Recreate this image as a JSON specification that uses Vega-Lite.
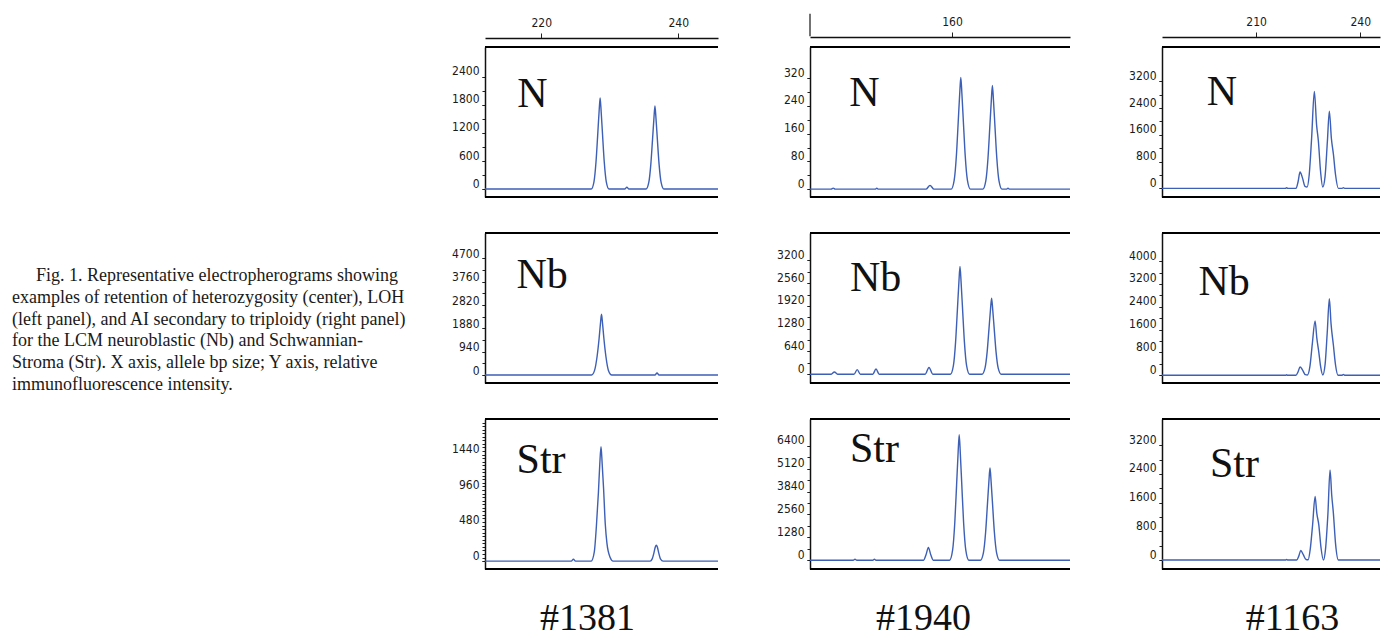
{
 "$schema": "https://vega.github.io/schema/vega-lite/v6.json",
 "background": "white",
 "padding": {"left": 12, "top": 12, "right": 0, "bottom": 0},
 "columns": 4,
 "align": "each",
 "bounds": "flush",
 "spacing": {"row": 36, "column": 92},
 "config": {
  "view": {"stroke": null},
  "axis": {"grid": false, "labelOverlap": false, "domainColor": "#111", "domainWidth": 1.5, "tickColor": "#222", "tickWidth": 1, "labelColor": "#1a1a1a", "labelFont": "Liberation Sans Narrow, DejaVu Sans Condensed, Arial Narrow, sans-serif", "labelFontSize": 12}
 },
 "datasets": {
  "traces": [
   {"panel":"1381N","bp":211.8,"rfu":0},{"panel":"1381N","bp":227.3,"rfu":0},{"panel":"1381N","bp":227.7,"rfu":156},{"panel":"1381N","bp":228.0,"rfu":585},{"panel":"1381N","bp":228.25,"rfu":1170},{"panel":"1381N","bp":228.45,"rfu":1658},{"panel":"1381N","bp":228.6,"rfu":1950},{"panel":"1381N","bp":228.75,"rfu":1658},{"panel":"1381N","bp":228.95,"rfu":1170},{"panel":"1381N","bp":229.2,"rfu":585},{"panel":"1381N","bp":229.5,"rfu":156},{"panel":"1381N","bp":229.9,"rfu":0},{"panel":"1381N","bp":232.2,"rfu":0},{"panel":"1381N","bp":232.5,"rfu":40},{"panel":"1381N","bp":232.8,"rfu":0},{"panel":"1381N","bp":235.3,"rfu":0},{"panel":"1381N","bp":235.7,"rfu":142},{"panel":"1381N","bp":236.0,"rfu":534},{"panel":"1381N","bp":236.25,"rfu":1068},{"panel":"1381N","bp":236.45,"rfu":1513},{"panel":"1381N","bp":236.6,"rfu":1780},{"panel":"1381N","bp":236.75,"rfu":1513},{"panel":"1381N","bp":236.95,"rfu":1068},{"panel":"1381N","bp":237.2,"rfu":534},{"panel":"1381N","bp":237.5,"rfu":142},{"panel":"1381N","bp":237.9,"rfu":0},{"panel":"1381N","bp":245.8,"rfu":0},
   {"panel":"1381Nb","bp":211.8,"rfu":0},{"panel":"1381Nb","bp":227.35,"rfu":0},{"panel":"1381Nb","bp":227.8,"rfu":196},{"panel":"1381Nb","bp":228.15,"rfu":735},{"panel":"1381Nb","bp":228.45,"rfu":1470},{"panel":"1381Nb","bp":228.65,"rfu":2083},{"panel":"1381Nb","bp":228.8,"rfu":2450},{"panel":"1381Nb","bp":228.95,"rfu":2083},{"panel":"1381Nb","bp":229.15,"rfu":1470},{"panel":"1381Nb","bp":229.45,"rfu":735},{"panel":"1381Nb","bp":229.8,"rfu":196},{"panel":"1381Nb","bp":230.3,"rfu":0},{"panel":"1381Nb","bp":236.6,"rfu":0},{"panel":"1381Nb","bp":236.9,"rfu":80},{"panel":"1381Nb","bp":237.2,"rfu":0},{"panel":"1381Nb","bp":245.8,"rfu":0},
   {"panel":"1381Str","bp":211.8,"rfu":0},{"panel":"1381Str","bp":224.4,"rfu":0},{"panel":"1381Str","bp":224.7,"rfu":25},{"panel":"1381Str","bp":225.0,"rfu":0},{"panel":"1381Str","bp":227.3,"rfu":0},{"panel":"1381Str","bp":227.75,"rfu":124},{"panel":"1381Str","bp":228.05,"rfu":464},{"panel":"1381Str","bp":228.35,"rfu":927},{"panel":"1381Str","bp":228.55,"rfu":1313},{"panel":"1381Str","bp":228.73,"rfu":1545},{"panel":"1381Str","bp":228.9,"rfu":1313},{"panel":"1381Str","bp":229.1,"rfu":988},{"panel":"1381Str","bp":229.35,"rfu":500},{"panel":"1381Str","bp":229.6,"rfu":235},{"panel":"1381Str","bp":230.05,"rfu":53},{"panel":"1381Str","bp":230.5,"rfu":0},{"panel":"1381Str","bp":235.9,"rfu":0},{"panel":"1381Str","bp":236.2,"rfu":30},{"panel":"1381Str","bp":236.45,"rfu":110},{"panel":"1381Str","bp":236.65,"rfu":190},{"panel":"1381Str","bp":236.8,"rfu":215},{"panel":"1381Str","bp":236.95,"rfu":190},{"panel":"1381Str","bp":237.15,"rfu":110},{"panel":"1381Str","bp":237.4,"rfu":30},{"panel":"1381Str","bp":237.8,"rfu":0},{"panel":"1381Str","bp":245.8,"rfu":0},
   {"panel":"1940N","bp":124.5,"rfu":0},{"panel":"1940N","bp":129.8,"rfu":0},{"panel":"1940N","bp":130.3,"rfu":3},{"panel":"1940N","bp":130.8,"rfu":0},{"panel":"1940N","bp":140.8,"rfu":0},{"panel":"1940N","bp":141.2,"rfu":3},{"panel":"1940N","bp":141.6,"rfu":0},{"panel":"1940N","bp":153.5,"rfu":0},{"panel":"1940N","bp":154.5,"rfu":11},{"panel":"1940N","bp":155.5,"rfu":0},{"panel":"1940N","bp":159.8,"rfu":0},{"panel":"1940N","bp":160.55,"rfu":26},{"panel":"1940N","bp":161.1,"rfu":97},{"panel":"1940N","bp":161.55,"rfu":193},{"panel":"1940N","bp":161.92,"rfu":274},{"panel":"1940N","bp":162.2,"rfu":322},{"panel":"1940N","bp":162.48,"rfu":274},{"panel":"1940N","bp":162.85,"rfu":193},{"panel":"1940N","bp":163.3,"rfu":97},{"panel":"1940N","bp":163.85,"rfu":26},{"panel":"1940N","bp":164.6,"rfu":0},{"panel":"1940N","bp":167.7,"rfu":0},{"panel":"1940N","bp":168.45,"rfu":24},{"panel":"1940N","bp":169.0,"rfu":90},{"panel":"1940N","bp":169.45,"rfu":179},{"panel":"1940N","bp":169.82,"rfu":254},{"panel":"1940N","bp":170.1,"rfu":299},{"panel":"1940N","bp":170.38,"rfu":254},{"panel":"1940N","bp":170.75,"rfu":179},{"panel":"1940N","bp":171.2,"rfu":90},{"panel":"1940N","bp":171.75,"rfu":24},{"panel":"1940N","bp":172.5,"rfu":0},{"panel":"1940N","bp":173.6,"rfu":0},{"panel":"1940N","bp":174.0,"rfu":3},{"panel":"1940N","bp":174.4,"rfu":0},{"panel":"1940N","bp":189.5,"rfu":0},
   {"panel":"1940Nb","bp":124.5,"rfu":0},{"panel":"1940Nb","bp":129.8,"rfu":0},{"panel":"1940Nb","bp":130.6,"rfu":63},{"panel":"1940Nb","bp":131.4,"rfu":0},{"panel":"1940Nb","bp":135.5,"rfu":0},{"panel":"1940Nb","bp":136.3,"rfu":128},{"panel":"1940Nb","bp":137.1,"rfu":0},{"panel":"1940Nb","bp":140.2,"rfu":0},{"panel":"1940Nb","bp":141.0,"rfu":146},{"panel":"1940Nb","bp":141.8,"rfu":0},{"panel":"1940Nb","bp":153.3,"rfu":0},{"panel":"1940Nb","bp":154.25,"rfu":190},{"panel":"1940Nb","bp":155.2,"rfu":0},{"panel":"1940Nb","bp":159.6,"rfu":0},{"panel":"1940Nb","bp":160.35,"rfu":242},{"panel":"1940Nb","bp":160.9,"rfu":909},{"panel":"1940Nb","bp":161.35,"rfu":1818},{"panel":"1940Nb","bp":161.72,"rfu":2576},{"panel":"1940Nb","bp":162.0,"rfu":3030},{"panel":"1940Nb","bp":162.28,"rfu":2576},{"panel":"1940Nb","bp":162.65,"rfu":1818},{"panel":"1940Nb","bp":163.1,"rfu":909},{"panel":"1940Nb","bp":163.65,"rfu":242},{"panel":"1940Nb","bp":164.4,"rfu":0},{"panel":"1940Nb","bp":167.5,"rfu":0},{"panel":"1940Nb","bp":168.25,"rfu":171},{"panel":"1940Nb","bp":168.8,"rfu":642},{"panel":"1940Nb","bp":169.25,"rfu":1284},{"panel":"1940Nb","bp":169.62,"rfu":1819},{"panel":"1940Nb","bp":169.9,"rfu":2140},{"panel":"1940Nb","bp":170.18,"rfu":1819},{"panel":"1940Nb","bp":170.55,"rfu":1284},{"panel":"1940Nb","bp":171.0,"rfu":642},{"panel":"1940Nb","bp":171.55,"rfu":171},{"panel":"1940Nb","bp":172.3,"rfu":0},{"panel":"1940Nb","bp":189.5,"rfu":0},
   {"panel":"1940Str","bp":124.5,"rfu":0},{"panel":"1940Str","bp":135.3,"rfu":0},{"panel":"1940Str","bp":135.75,"rfu":55},{"panel":"1940Str","bp":136.2,"rfu":0},{"panel":"1940Str","bp":140.2,"rfu":0},{"panel":"1940Str","bp":140.6,"rfu":55},{"panel":"1940Str","bp":141.0,"rfu":0},{"panel":"1940Str","bp":152.9,"rfu":0},{"panel":"1940Str","bp":153.5,"rfu":300},{"panel":"1940Str","bp":154.1,"rfu":714},{"panel":"1940Str","bp":154.7,"rfu":300},{"panel":"1940Str","bp":155.3,"rfu":0},{"panel":"1940Str","bp":159.4,"rfu":0},{"panel":"1940Str","bp":160.15,"rfu":562},{"panel":"1940Str","bp":160.7,"rfu":2109},{"panel":"1940Str","bp":161.15,"rfu":4218},{"panel":"1940Str","bp":161.52,"rfu":5976},{"panel":"1940Str","bp":161.8,"rfu":7030},{"panel":"1940Str","bp":162.08,"rfu":5976},{"panel":"1940Str","bp":162.45,"rfu":4218},{"panel":"1940Str","bp":162.9,"rfu":2109},{"panel":"1940Str","bp":163.45,"rfu":562},{"panel":"1940Str","bp":164.2,"rfu":0},{"panel":"1940Str","bp":167.1,"rfu":0},{"panel":"1940Str","bp":167.85,"rfu":413},{"panel":"1940Str","bp":168.4,"rfu":1548},{"panel":"1940Str","bp":168.85,"rfu":3096},{"panel":"1940Str","bp":169.22,"rfu":4386},{"panel":"1940Str","bp":169.5,"rfu":5160},{"panel":"1940Str","bp":169.78,"rfu":4386},{"panel":"1940Str","bp":170.15,"rfu":3096},{"panel":"1940Str","bp":170.6,"rfu":1548},{"panel":"1940Str","bp":171.15,"rfu":413},{"panel":"1940Str","bp":171.9,"rfu":0},{"panel":"1940Str","bp":189.5,"rfu":0},
   {"panel":"1163N","bp":182.9,"rfu":0},{"panel":"1163N","bp":218.4,"rfu":0},{"panel":"1163N","bp":218.8,"rfu":20},{"panel":"1163N","bp":219.2,"rfu":0},{"panel":"1163N","bp":221.5,"rfu":0},{"panel":"1163N","bp":222.1,"rfu":200},{"panel":"1163N","bp":222.67,"rfu":490},{"panel":"1163N","bp":223.4,"rfu":300},{"panel":"1163N","bp":224.1,"rfu":60},{"panel":"1163N","bp":224.69,"rfu":40},{"panel":"1163N","bp":225.3,"rfu":400},{"panel":"1163N","bp":226.0,"rfu":1500},{"panel":"1163N","bp":226.79,"rfu":2900},{"panel":"1163N","bp":227.43,"rfu":1900},{"panel":"1163N","bp":227.94,"rfu":1425},{"panel":"1163N","bp":228.58,"rfu":500},{"panel":"1163N","bp":229.21,"rfu":40},{"panel":"1163N","bp":229.87,"rfu":350},{"panel":"1163N","bp":230.54,"rfu":1400},{"panel":"1163N","bp":231.11,"rfu":2310},{"panel":"1163N","bp":231.69,"rfu":1500},{"panel":"1163N","bp":232.27,"rfu":1030},{"panel":"1163N","bp":232.9,"rfu":400},{"panel":"1163N","bp":233.71,"rfu":0},{"panel":"1163N","bp":234.8,"rfu":0},{"panel":"1163N","bp":235.15,"rfu":20},{"panel":"1163N","bp":235.5,"rfu":0},{"panel":"1163N","bp":245.7,"rfu":0},
   {"panel":"1163Nb","bp":182.9,"rfu":0},{"panel":"1163Nb","bp":218.5,"rfu":0},{"panel":"1163Nb","bp":218.8,"rfu":15},{"panel":"1163Nb","bp":219.1,"rfu":0},{"panel":"1163Nb","bp":221.5,"rfu":0},{"panel":"1163Nb","bp":222.1,"rfu":120},{"panel":"1163Nb","bp":222.67,"rfu":293},{"panel":"1163Nb","bp":223.4,"rfu":180},{"panel":"1163Nb","bp":224.2,"rfu":20},{"panel":"1163Nb","bp":224.8,"rfu":10},{"panel":"1163Nb","bp":225.5,"rfu":300},{"panel":"1163Nb","bp":226.2,"rfu":1100},{"panel":"1163Nb","bp":227.0,"rfu":1906},{"panel":"1163Nb","bp":227.5,"rfu":1300},{"panel":"1163Nb","bp":228.06,"rfu":822},{"panel":"1163Nb","bp":228.6,"rfu":300},{"panel":"1163Nb","bp":229.21,"rfu":10},{"panel":"1163Nb","bp":229.9,"rfu":400},{"panel":"1163Nb","bp":230.5,"rfu":1500},{"panel":"1163Nb","bp":231.11,"rfu":2683},{"panel":"1163Nb","bp":231.6,"rfu":1800},{"panel":"1163Nb","bp":232.27,"rfu":1059},{"panel":"1163Nb","bp":232.9,"rfu":350},{"panel":"1163Nb","bp":233.6,"rfu":0},{"panel":"1163Nb","bp":234.8,"rfu":0},{"panel":"1163Nb","bp":235.15,"rfu":30},{"panel":"1163Nb","bp":235.5,"rfu":0},{"panel":"1163Nb","bp":245.7,"rfu":0},
   {"panel":"1163Str","bp":182.9,"rfu":0},{"panel":"1163Str","bp":218.4,"rfu":0},{"panel":"1163Str","bp":218.8,"rfu":15},{"panel":"1163Str","bp":219.2,"rfu":0},{"panel":"1163Str","bp":221.7,"rfu":0},{"panel":"1163Str","bp":222.3,"rfu":110},{"panel":"1163Str","bp":222.87,"rfu":268},{"panel":"1163Str","bp":223.6,"rfu":150},{"panel":"1163Str","bp":224.4,"rfu":15},{"panel":"1163Str","bp":225.0,"rfu":10},{"panel":"1163Str","bp":225.6,"rfu":300},{"panel":"1163Str","bp":226.3,"rfu":1000},{"panel":"1163Str","bp":227.0,"rfu":1773},{"panel":"1163Str","bp":227.5,"rfu":1300},{"panel":"1163Str","bp":228.06,"rfu":990},{"panel":"1163Str","bp":228.7,"rfu":350},{"panel":"1163Str","bp":229.4,"rfu":0},{"panel":"1163Str","bp":230.0,"rfu":300},{"panel":"1163Str","bp":230.7,"rfu":1300},{"panel":"1163Str","bp":231.31,"rfu":2512},{"panel":"1163Str","bp":231.8,"rfu":1800},{"panel":"1163Str","bp":232.27,"rfu":1310},{"panel":"1163Str","bp":232.9,"rfu":450},{"panel":"1163Str","bp":233.71,"rfu":0},{"panel":"1163Str","bp":245.7,"rfu":0}
  ]
 },
 "concat": [
  {"width": 381, "height": 150, "data": {"values": [{}]}, "mark": {"type": "text"}, "encoding": {"text": {"value": ""}}},
  {"width": 233, "height": 150, "resolve": {"axis": {"y": "independent"}}, "layer": [
   {"data": {"values": [{}]}, "mark": {"type": "rule", "color": "#000", "strokeWidth": 2}, "encoding": {"y": {"datum": -170, "axis": {"orient": "left", "values": [0,300,600,900,1200,1500,1800,2100,2400], "labels": false, "domain": false, "title": null, "tickSize": 3}}}},
   {"data": {"name": "traces"}, "transform": [{"filter": "datum.panel === '1381N'"}], "mark": {"type": "line", "interpolate": "monotone", "color": "#3d5fb5", "strokeWidth": 1.4},
    "encoding": {
     "x": {"field": "bp", "type": "quantitative", "scale": {"domain": [211.8, 245.8], "nice": false, "zero": false}, "axis": {"orient": "top", "offset": 9, "values": [220, 240], "format": "d", "title": null, "tickSize": 5, "labelPadding": 4, "labelFlush": false}},
     "y": {"field": "rfu", "type": "quantitative", "scale": {"domain": [-170, 3040], "nice": false, "zero": false}, "axis": {"orient": "left", "title": null, "values": [0,600,1200,1800,2400], "format": "d", "labelOffset": -6, "tickSize": 3, "labelPadding": 3}}}},
   {"data": {"values": [{}]}, "mark": {"type": "rule", "color": "#000", "strokeWidth": 2}, "encoding": {"y": {"datum": 3040, "axis": null}}},
   {"data": {"values": [{"label": "N"}]}, "mark": {"type": "text", "align": "left", "baseline": "alphabetic", "font": "Liberation Serif", "fontSize": 42, "color": "#111"}, "encoding": {"x": {"datum": 216.5}, "y": {"datum": 1755, "axis": null}, "text": {"field": "label"}}}
  ]},
  {"width": 260, "height": 150, "resolve": {"axis": {"y": "independent"}}, "layer": [
   {"data": {"values": [{}]}, "mark": {"type": "rule", "color": "#000", "strokeWidth": 2}, "encoding": {"y": {"datum": -22.6, "axis": {"orient": "left", "values": [0,40,80,120,160,200,240,280,320], "labels": false, "domain": false, "title": null, "tickSize": 3}}}},
   {"data": {"name": "traces"}, "transform": [{"filter": "datum.panel === '1940N'"}], "mark": {"type": "line", "interpolate": "monotone", "color": "#3d5fb5", "strokeWidth": 1.4},
    "encoding": {
     "x": {"field": "bp", "type": "quantitative", "scale": {"domain": [124.5, 189.5], "nice": false, "zero": false}, "axis": {"orient": "top", "offset": 10, "values": [160], "format": "d", "title": null, "tickSize": 5, "labelPadding": 4, "labelFlush": false}},
     "y": {"field": "rfu", "type": "quantitative", "scale": {"domain": [-22.6, 410], "nice": false, "zero": false}, "axis": {"orient": "left", "title": null, "values": [0,80,160,240,320], "format": "d", "labelOffset": -6, "tickSize": 3, "labelPadding": 3}}}},
   {"data": {"values": [{}]}, "mark": {"type": "rule", "color": "#000", "strokeWidth": 2}, "encoding": {"y": {"datum": 410, "axis": null}}},
   {"data": {"values": [{}]}, "mark": {"type": "rule", "color": "#444", "strokeWidth": 1.5}, "encoding": {"x": {"datum": 124.5}, "y": {"datum": 441, "axis": null}, "y2": {"datum": 506}}},
   {"data": {"values": [{"label": "N"}]}, "mark": {"type": "text", "align": "left", "baseline": "alphabetic", "font": "Liberation Serif", "fontSize": 42, "color": "#111"}, "encoding": {"x": {"datum": 134.3}, "y": {"datum": 240, "axis": null}, "text": {"field": "label"}}}
  ]},
  {"width": 218, "height": 150, "resolve": {"axis": {"y": "independent"}}, "layer": [
   {"data": {"values": [{}]}, "mark": {"type": "rule", "color": "#000", "strokeWidth": 2}, "encoding": {"y": {"datum": -257, "axis": {"orient": "left", "values": [0,400,800,1200,1600,2000,2400,2800,3200], "labels": false, "domain": false, "title": null, "tickSize": 3}}}},
   {"data": {"name": "traces"}, "transform": [{"filter": "datum.panel === '1163N'"}], "mark": {"type": "line", "interpolate": "monotone", "color": "#3d5fb5", "strokeWidth": 1.4},
    "encoding": {
     "x": {"field": "bp", "type": "quantitative", "scale": {"domain": [182.9, 245.7], "nice": false, "zero": false}, "axis": {"orient": "top", "offset": 10, "values": [210, 240], "format": "d", "title": null, "tickSize": 5, "labelPadding": 4, "labelFlush": false}},
     "y": {"field": "rfu", "type": "quantitative", "scale": {"domain": [-257, 4227], "nice": false, "zero": false}, "axis": {"orient": "left", "title": null, "values": [0,800,1600,2400,3200], "format": "d", "labelOffset": -6, "tickSize": 3, "labelPadding": 3}}}},
   {"data": {"values": [{}]}, "mark": {"type": "rule", "color": "#000", "strokeWidth": 2}, "encoding": {"y": {"datum": 4227, "axis": null}}},
   {"data": {"values": [{"label": "N"}]}, "mark": {"type": "text", "align": "left", "baseline": "alphabetic", "font": "Liberation Serif", "fontSize": 42, "color": "#111"}, "encoding": {"x": {"datum": 195.8}, "y": {"datum": 2508, "axis": null}, "text": {"field": "label"}}}
  ]},
  {"width": 381, "height": 150,
   "data": {"values": [
    {"line": 1, "text": "Fig. 1. Representative electropherograms showing"},
    {"line": 2, "text": "examples of retention of heterozygosity (center), LOH"},
    {"line": 3, "text": "(left panel), and AI secondary to triploidy (right panel)"},
    {"line": 4, "text": "for the LCM neuroblastic (Nb) and Schwannian-"},
    {"line": 5, "text": "Stroma (Str). X axis, allele bp size; Y axis, relative"},
    {"line": 6, "text": "immunofluorescence intensity."}
   ]},
   "layer": [
    {"transform": [{"filter": "datum.line === 1"}], "mark": {"type": "text", "align": "left", "baseline": "middle", "font": "Liberation Serif", "fontSize": 18, "color": "#1a1a1a", "dx": 24},
     "encoding": {"x": {"datum": 0, "scale": {"domain": [0, 1]}, "axis": null}, "y": {"field": "line", "type": "quantitative", "scale": {"domain": [-0.97, 5.91], "reverse": true, "nice": false, "zero": false}, "axis": null}, "text": {"field": "text"}}},
    {"transform": [{"filter": "datum.line > 1"}], "mark": {"type": "text", "align": "left", "baseline": "middle", "font": "Liberation Serif", "fontSize": 18, "color": "#1a1a1a"},
     "encoding": {"x": {"datum": 0, "axis": null}, "y": {"field": "line", "type": "quantitative", "axis": null}, "text": {"field": "text"}}}
   ]},
  {"width": 233, "height": 150, "resolve": {"axis": {"y": "independent"}}, "layer": [
   {"data": {"values": [{}]}, "mark": {"type": "rule", "color": "#000", "strokeWidth": 2}, "encoding": {"y": {"datum": -322, "axis": {"orient": "left", "values": [0,470,940,1410,1880,2350,2820,3290,3760,4230,4700], "labels": false, "domain": false, "title": null, "tickSize": 3}}}},
   {"data": {"name": "traces"}, "transform": [{"filter": "datum.panel === '1381Nb'"}], "mark": {"type": "line", "interpolate": "monotone", "color": "#3d5fb5", "strokeWidth": 1.4},
    "encoding": {
     "x": {"field": "bp", "type": "quantitative", "scale": {"domain": [211.8, 245.8], "nice": false, "zero": false}, "axis": {"domain": false, "ticks": false, "labels": false, "title": null}},
     "y": {"field": "rfu", "type": "quantitative", "scale": {"domain": [-322, 5723], "nice": false, "zero": false}, "axis": {"orient": "left", "title": null, "values": [0,940,1880,2820,3760,4700], "format": "d", "labelOffset": -5, "tickSize": 3, "labelPadding": 3}}}},
   {"data": {"values": [{}]}, "mark": {"type": "rule", "color": "#000", "strokeWidth": 2}, "encoding": {"y": {"datum": 5723, "axis": null}}},
   {"data": {"values": [{"label": "Nb"}]}, "mark": {"type": "text", "align": "left", "baseline": "alphabetic", "font": "Liberation Serif", "fontSize": 42, "color": "#111"}, "encoding": {"x": {"datum": 216.4}, "y": {"datum": 3494, "axis": null}, "text": {"field": "label"}}}
  ]},
  {"width": 260, "height": 150, "resolve": {"axis": {"y": "independent"}}, "layer": [
   {"data": {"values": [{}]}, "mark": {"type": "rule", "color": "#000", "strokeWidth": 2}, "encoding": {"y": {"datum": -247, "axis": {"orient": "left", "values": [0,320,640,960,1280,1600,1920,2240,2560,2880,3200], "labels": false, "domain": false, "title": null, "tickSize": 3}}}},
   {"data": {"name": "traces"}, "transform": [{"filter": "datum.panel === '1940Nb'"}], "mark": {"type": "line", "interpolate": "monotone", "color": "#3d5fb5", "strokeWidth": 1.4},
    "encoding": {
     "x": {"field": "bp", "type": "quantitative", "scale": {"domain": [124.5, 189.5], "nice": false, "zero": false}, "axis": {"domain": false, "ticks": false, "labels": false, "title": null}},
     "y": {"field": "rfu", "type": "quantitative", "scale": {"domain": [-247, 3973], "nice": false, "zero": false}, "axis": {"orient": "left", "title": null, "values": [0,640,1280,1920,2560,3200], "format": "d", "labelOffset": -6, "tickSize": 3, "labelPadding": 3}}}},
   {"data": {"values": [{}]}, "mark": {"type": "rule", "color": "#000", "strokeWidth": 2}, "encoding": {"y": {"datum": 3973, "axis": null}}},
   {"data": {"values": [{"label": "Nb"}]}, "mark": {"type": "text", "align": "left", "baseline": "alphabetic", "font": "Liberation Serif", "fontSize": 42, "color": "#111"}, "encoding": {"x": {"datum": 134.5}, "y": {"datum": 2330, "axis": null}, "text": {"field": "label"}}}
  ]},
  {"width": 218, "height": 150, "resolve": {"axis": {"y": "independent"}}, "layer": [
   {"data": {"values": [{}]}, "mark": {"type": "rule", "color": "#000", "strokeWidth": 2}, "encoding": {"y": {"datum": -272, "axis": {"orient": "left", "values": [0,400,800,1200,1600,2000,2400,2800,3200,3600,4000], "labels": false, "domain": false, "title": null, "tickSize": 3}}}},
   {"data": {"name": "traces"}, "transform": [{"filter": "datum.panel === '1163Nb'"}], "mark": {"type": "line", "interpolate": "monotone", "color": "#3d5fb5", "strokeWidth": 1.4},
    "encoding": {
     "x": {"field": "bp", "type": "quantitative", "scale": {"domain": [182.9, 245.7], "nice": false, "zero": false}, "axis": {"domain": false, "ticks": false, "labels": false, "title": null}},
     "y": {"field": "rfu", "type": "quantitative", "scale": {"domain": [-272, 4988], "nice": false, "zero": false}, "axis": {"orient": "left", "title": null, "values": [0,800,1600,2400,3200,4000], "format": "d", "labelOffset": -6, "tickSize": 3, "labelPadding": 3}}}},
   {"data": {"values": [{}]}, "mark": {"type": "rule", "color": "#000", "strokeWidth": 2}, "encoding": {"y": {"datum": 4988, "axis": null}}},
   {"data": {"values": [{"label": "Nb"}]}, "mark": {"type": "text", "align": "left", "baseline": "alphabetic", "font": "Liberation Serif", "fontSize": 42, "color": "#111"}, "encoding": {"x": {"datum": 193.4}, "y": {"datum": 2800, "axis": null}, "text": {"field": "label"}}}
  ]},
  {"width": 381, "height": 150, "data": {"values": [{}]}, "mark": {"type": "text"}, "encoding": {"text": {"value": ""}}},
  {"width": 233, "height": 150, "resolve": {"axis": {"y": "independent"}}, "layer": [
   {"data": {"values": [{}]}, "mark": {"type": "rule", "color": "#000", "strokeWidth": 2}, "encoding": {"y": {"datum": -107, "axis": {"orient": "left", "values": [0,48,96,144,192,240,288,336,384,432,480,528,576,624,672,720,768,816,864,912,960,1008,1056,1104,1152,1200,1248,1296,1344,1392,1440,1488,1536,1584,1632,1680,1728,1776,1824,1872], "labels": false, "domain": false, "title": null, "tickSize": 3}}}},
   {"data": {"name": "traces"}, "transform": [{"filter": "datum.panel === '1381Str'"}], "mark": {"type": "line", "interpolate": "monotone", "color": "#3d5fb5", "strokeWidth": 1.4},
    "encoding": {
     "x": {"field": "bp", "type": "quantitative", "scale": {"domain": [211.8, 245.8], "nice": false, "zero": false}, "axis": {"orient": "bottom", "domain": false, "ticks": false, "labels": false, "title": "#1381", "titleFont": "Liberation Serif", "titleFontSize": 38, "titleFontWeight": "normal", "titleColor": "#111", "titleX": 102, "titleY": 60, "titleBaseline": "alphabetic", "titleAlign": "center"}},
     "y": {"field": "rfu", "type": "quantitative", "scale": {"domain": [-107, 1920], "nice": false, "zero": false}, "axis": {"orient": "left", "title": null, "values": [0,480,960,1440], "format": "d", "labelOffset": -6, "tickSize": 3, "labelPadding": 3}}}},
   {"data": {"values": [{}]}, "mark": {"type": "rule", "color": "#000", "strokeWidth": 2}, "encoding": {"y": {"datum": 1920, "axis": null}}},
   {"data": {"values": [{"label": "Str"}]}, "mark": {"type": "text", "align": "left", "baseline": "alphabetic", "font": "Liberation Serif", "fontSize": 42, "color": "#111"}, "encoding": {"x": {"datum": 216.4}, "y": {"datum": 1197, "axis": null}, "text": {"field": "label"}}}
  ]},
  {"width": 260, "height": 150, "resolve": {"axis": {"y": "independent"}}, "layer": [
   {"data": {"values": [{}]}, "mark": {"type": "rule", "color": "#000", "strokeWidth": 2}, "encoding": {"y": {"datum": -494, "axis": {"orient": "left", "values": [0,640,1280,1920,2560,3200,3840,4480,5120,5760,6400], "labels": false, "domain": false, "title": null, "tickSize": 3}}}},
   {"data": {"name": "traces"}, "transform": [{"filter": "datum.panel === '1940Str'"}], "mark": {"type": "line", "interpolate": "monotone", "color": "#3d5fb5", "strokeWidth": 1.4},
    "encoding": {
     "x": {"field": "bp", "type": "quantitative", "scale": {"domain": [124.5, 189.5], "nice": false, "zero": false}, "axis": {"orient": "bottom", "domain": false, "ticks": false, "labels": false, "title": "#1940", "titleFont": "Liberation Serif", "titleFontSize": 38, "titleFontWeight": "normal", "titleColor": "#111", "titleX": 113, "titleY": 60, "titleBaseline": "alphabetic", "titleAlign": "center"}},
     "y": {"field": "rfu", "type": "quantitative", "scale": {"domain": [-494, 7906], "nice": false, "zero": false}, "axis": {"orient": "left", "title": null, "values": [0,1280,2560,3840,5120,6400], "format": "d", "labelOffset": -6, "tickSize": 3, "labelPadding": 3}}}},
   {"data": {"values": [{}]}, "mark": {"type": "rule", "color": "#000", "strokeWidth": 2}, "encoding": {"y": {"datum": 7906, "axis": null}}},
   {"data": {"values": [{"label": "Str"}]}, "mark": {"type": "text", "align": "left", "baseline": "alphabetic", "font": "Liberation Serif", "fontSize": 42, "color": "#111"}, "encoding": {"x": {"datum": 134.5}, "y": {"datum": 5520, "axis": null}, "text": {"field": "label"}}}
  ]},
  {"width": 218, "height": 150, "resolve": {"axis": {"y": "independent"}}, "layer": [
   {"data": {"values": [{}]}, "mark": {"type": "rule", "color": "#000", "strokeWidth": 2}, "encoding": {"y": {"datum": -249, "axis": {"orient": "left", "values": [0,400,800,1200,1600,2000,2400,2800,3200], "labels": false, "domain": false, "title": null, "tickSize": 3}}}},
   {"data": {"name": "traces"}, "transform": [{"filter": "datum.panel === '1163Str'"}], "mark": {"type": "line", "interpolate": "monotone", "color": "#3d5fb5", "strokeWidth": 1.4},
    "encoding": {
     "x": {"field": "bp", "type": "quantitative", "scale": {"domain": [182.9, 245.7], "nice": false, "zero": false}, "axis": {"orient": "bottom", "domain": false, "ticks": false, "labels": false, "title": "#1163", "titleFont": "Liberation Serif", "titleFontSize": 38, "titleFontWeight": "normal", "titleColor": "#111", "titleX": 130, "titleY": 60, "titleBaseline": "alphabetic", "titleAlign": "center"}},
     "y": {"field": "rfu", "type": "quantitative", "scale": {"domain": [-249, 3933], "nice": false, "zero": false}, "axis": {"orient": "left", "title": null, "values": [0,800,1600,2400,3200], "format": "d", "labelOffset": -6, "tickSize": 3, "labelPadding": 3}}}},
   {"data": {"values": [{}]}, "mark": {"type": "rule", "color": "#000", "strokeWidth": 2}, "encoding": {"y": {"datum": 3933, "axis": null}}},
   {"data": {"values": [{"label": "Str"}]}, "mark": {"type": "text", "align": "left", "baseline": "alphabetic", "font": "Liberation Serif", "fontSize": 42, "color": "#111"}, "encoding": {"x": {"datum": 196.7}, "y": {"datum": 2327, "axis": null}, "text": {"field": "label"}}}
  ]}
 ]
}
